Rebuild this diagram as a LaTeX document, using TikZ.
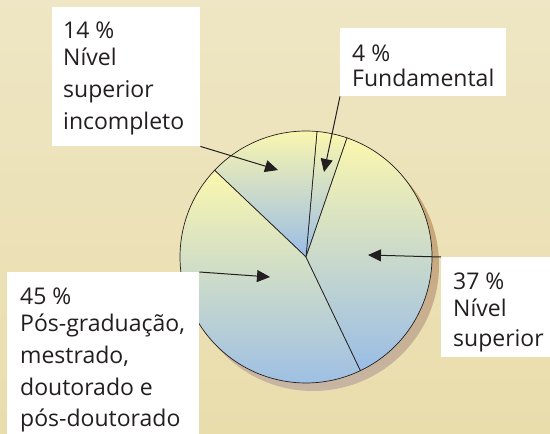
\documentclass[tikz,border=0pt]{standalone}
\usepackage{fontspec}
\setmainfont{Open Sans}
\usetikzlibrary{arrows.meta}
\definecolor{bgtop}{HTML}{EEE6C4}
\definecolor{bgbot}{HTML}{EADDAC}
\definecolor{shtop}{HTML}{C99F62}
\definecolor{shbot}{HTML}{C7B6A4}
\definecolor{pieyellow}{HTML}{FBF7AE}
\definecolor{pieblue}{HTML}{9ABDE7}
\definecolor{ink}{HTML}{231F20}
\tikzset{slice/.style={draw=ink, line width=0.7pt, top color=pieyellow, bottom color=pieblue},
  lblbox/.style={fill=white, inner sep=0pt, anchor=north west},
  lbltext/.style={anchor=base west, inner sep=0pt, text=ink, font=\fontsize{23}{32}\selectfont},
  arr/.style={draw=ink, line width=1pt, -{Triangle[length=13pt,width=12pt]}}}
\newcommand{\lbl}[1]{\parbox[t]{170pt}{\raggedright #1}}
\begin{document}
\begin{tikzpicture}[x=1pt,y=-1pt]
  \useasboundingbox (0,0) rectangle (550,434);
  \shade[top color=bgtop, bottom color=bgbot] (0,0) rectangle (550,434);
  \coordinate (c) at (306,257); \shade[top color=shtop, bottom color=shbot] (313,265) circle[radius=126];
  \foreach \a/\b in {71/85, 85/136.5, 136.5/295.6, 295.6/431}
    \path[slice] (c) -- ++(-\a:126) arc[start angle=-\a, end angle=-\b, radius=126] -- cycle;
  \node[lblbox, minimum width=148pt, minimum height=139pt] (b14) at (52,7) {};
  \node[lblbox, minimum width=166pt, minimum height=68pt] (b4) at (340,28) {};
  \node[lblbox, minimum width=109pt, minimum height=100pt] (b37) at (441,257) {};
  \node[lblbox, minimum width=192pt, minimum height=162pt] (b45) at (7,272) {};
  \node[lbltext] (t14) at (63,38) {\lbl{14 \%\\[-5pt] Nível\\ superior\\ incompleto}};
  \node[lbltext] (t4) at (352,61) {\lbl{4 \%\\[-7pt] Fundamental}};
  \node[lbltext] (t37) at (453,289) {\lbl{37 \%\\[-5pt] Nível\\[-2pt] superior}};
  \node[lbltext] (t45) at (20,304) {\lbl{45 \%\\[-5pt] Pós-graduação,\\ mestrado,\\ doutorado e\\[-1pt] pós-doutorado}};
  \coordinate (a14) at (278,170); \coordinate (a4) at (324,172); \coordinate (a37) at (368,255); \coordinate (a45) at (270,277);
  \draw[arr] (b14.south east) -- (a14); \draw[arr] (b4.south west) -- (a4);
  \draw[arr] (b37.north west) -- (a37); \draw[arr] (b45.north east) -- (a45);
\end{tikzpicture}
\end{document}
